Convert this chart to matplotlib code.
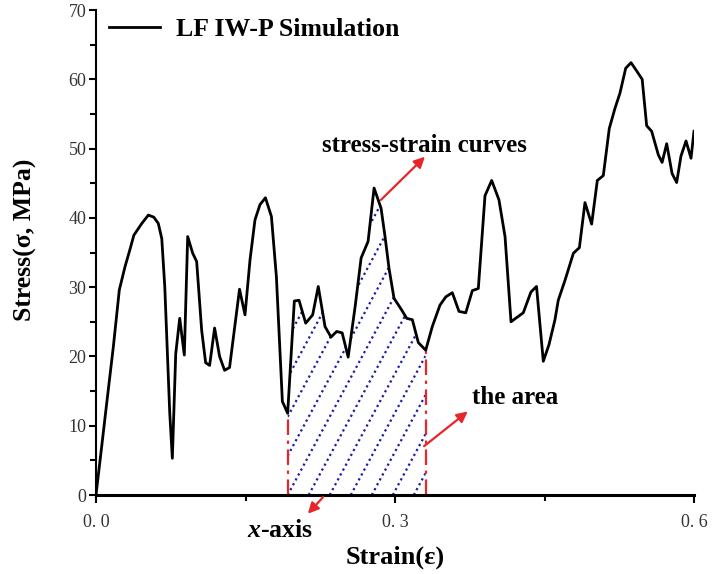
import numpy as np
import matplotlib.pyplot as plt
from matplotlib.patches import Polygon

plt.rcParams['font.family'] = ['Liberation Serif', 'DejaVu Serif']
plt.rcParams['mathtext.fontset'] = 'custom'
plt.rcParams['mathtext.it'] = 'Liberation Serif:italic:bold'
plt.rcParams['mathtext.rm'] = 'Liberation Serif:bold'

strain = [0.0, 0.0057, 0.0107, 0.0174, 0.0234, 0.029, 0.034, 0.038, 0.046, 0.0525,
          0.058, 0.0625, 0.066, 0.069, 0.074, 0.0766, 0.080, 0.084, 0.0886, 0.092,
          0.097, 0.101, 0.106, 0.110, 0.114, 0.119, 0.124, 0.129, 0.134, 0.144,
          0.1495, 0.1545, 0.1595, 0.1645, 0.170, 0.176, 0.181, 0.187, 0.1923, 0.199,
          0.2037, 0.2104, 0.2174, 0.223, 0.2298, 0.2358, 0.2415, 0.247, 0.253, 0.260,
          0.266, 0.273, 0.279, 0.286, 0.290, 0.294, 0.299, 0.3067, 0.3117, 0.3174,
          0.3234, 0.3308, 0.3374, 0.3451, 0.351, 0.3575, 0.3642, 0.371, 0.3776, 0.3836,
          0.3903, 0.397, 0.4043, 0.4104, 0.4164, 0.422, 0.4287, 0.4364, 0.442, 0.4488,
          0.4545, 0.4605, 0.4638, 0.4706, 0.479, 0.485, 0.4906, 0.4973, 0.503, 0.509,
          0.515, 0.5207, 0.5257, 0.5315, 0.5368, 0.5425, 0.548, 0.5525, 0.5575, 0.5642,
          0.568, 0.5726, 0.578, 0.5826, 0.5869, 0.592, 0.597, 0.600]
stress = [0.0, 7.0, 13.2, 21.4, 29.6, 32.9, 35.4, 37.5, 39.2, 40.4,
          40.1, 39.2, 37.0, 30.1, 11.8, 5.3, 20.4, 25.5, 20.2, 37.3,
          34.9, 33.7, 23.8, 19.1, 18.7, 24.1, 20.0, 18.0, 18.4, 29.7,
          26.0, 33.9, 39.7, 41.9, 42.9, 40.2, 31.5, 13.5, 11.8, 28.0,
          28.1, 24.8, 26.0, 30.1, 24.3, 22.8, 23.6, 23.4, 19.9, 27.2,
          34.2, 36.6, 44.3, 41.4, 37.3, 32.7, 28.4, 26.7, 25.5, 25.3,
          22.0, 20.9, 24.3, 27.4, 28.6, 29.2, 26.5, 26.3, 29.5, 29.8,
          43.2, 45.4, 42.6, 37.3, 25.0, 25.6, 26.3, 29.3, 30.1, 19.3,
          21.7, 25.3, 28.1, 31.0, 34.9, 35.7, 42.2, 39.1, 45.4, 46.1,
          52.9, 55.8, 58.0, 61.6, 62.4, 61.2, 60.0, 53.3, 52.5, 49.1,
          48.0, 50.7, 46.4, 45.1, 48.9, 51.1, 48.6, 52.5]

area_start = 0.1923
area_end = 0.3308
x_ticks = [0.0, 0.3, 0.6]
x_tick_labels = ['0. 0', '0. 3', '0. 6']

strain = np.array(strain)
stress = np.array(stress)

fig = plt.figure(figsize=(7.12, 5.74), dpi=100)
ax = fig.add_axes([96 / 712, 1 - 495 / 574, 598 / 712, 485 / 574])

ax.plot(strain, stress, color='black', lw=2, label='LF IW-P Simulation', zorder=3)

# area under the curve between the two red lines
mask = (strain >= area_start) & (strain <= area_end)
verts = [(area_start, 0)] + list(zip(strain[mask], stress[mask])) + [(area_end, 0)]
poly = Polygon(verts, closed=True, fill=False, lw=0)
ax.add_patch(poly)

slope = 267.6
gap = 0.0211
for k in range(-12, 8):
    xb = area_start + k * gap
    hl, = ax.plot([xb, xb + 70 / slope], [0, 70], color='#1c1ca8', lw=1.6,
                  ls=(0, (1, 1.5)), zorder=2)
    hl.set_clip_path(poly)

for xv in (area_start, area_end):
    yv = np.interp(xv, strain, stress)
    ax.plot([xv, xv], [0, yv], color='#e8262a', lw=1.6, ls=(0, (7, 2.5, 1.5, 2.5)), zorder=2)

arrow = dict(arrowstyle='-|>', color='#e8262a', lw=1.6, mutation_scale=16)
ax.annotate('', xy=(0.332, 49.1), xytext=(0.2838, 42.3), arrowprops=arrow)
ax.text(0.330, 50.5, 'stress-strain curves', ha='center', va='center',
        fontsize=18, fontweight='bold')
ax.annotate('', xy=(0.3752, 12.3), xytext=(0.327, 6.8), arrowprops=arrow)
ax.text(0.4204, 14.0, 'the area', ha='center', va='center', fontsize=18, fontweight='bold')
ax.annotate('', xy=(0.2107, -3.0), xytext=(0.2298, 0), arrowprops=arrow,
            annotation_clip=False)
ax.text(0.1846, -5.1, r'$x$-axis', ha='center', va='center', fontsize=18.5,
        fontweight='bold')

ax.set_xlim(0, 0.6)
ax.set_ylim(0, 70)
ax.set_xticks(x_ticks)
ax.set_xticklabels(x_tick_labels)
ax.set_xticks([0.15, 0.45], minor=True)
ax.set_yticks(range(0, 71, 10))
ax.set_yticks(range(5, 70, 10), minor=True)
ax.tick_params(which='major', direction='out', length=6, width=1.5, labelsize=13,
               labelcolor='#333333')
ax.tick_params(which='minor', direction='out', length=4, width=1.5)
ax.tick_params(axis='x', pad=8)
ax.tick_params(axis='y', which='major', length=5, pad=2)

for side in ('top', 'right'):
    ax.spines[side].set_visible(False)
ax.spines['left'].set_linewidth(1.5)
ax.spines['bottom'].set_linewidth(2.2)

ax.set_xlabel('Strain(ε)', fontsize=19, fontweight='bold', labelpad=10)
ax.set_ylabel('Stress(σ, MPa)', fontsize=18.5, fontweight='bold')
ax.yaxis.set_label_coords(-0.099, 0.526)

ax.legend(loc='upper left', bbox_to_anchor=(0, 1.01), frameon=False, handlelength=2.0,
          handletextpad=0.6, borderaxespad=0.1, prop={'weight': 'bold', 'size': 18.5})

fig.savefig('out.png', dpi=100)
